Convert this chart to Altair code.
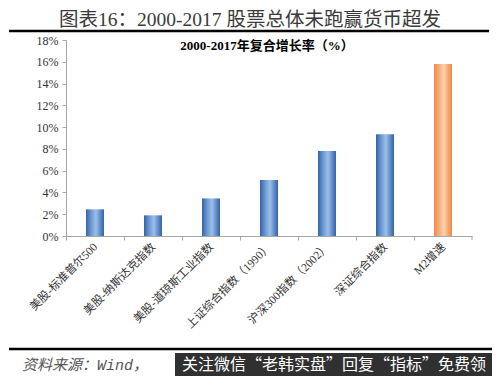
import altair as alt
import pandas as pd

categories = ["美股-标准普尔500", "美股-纳斯达克指数", "美股-道琼斯工业指数",
              "上证综合指数（1990）", "沪深300指数（2002）", "深证综合指数", "M2增速"]
values = [2.45, 1.9, 3.45, 5.15, 7.8, 9.35, 15.8]
groups = ["stock", "stock", "stock", "stock", "stock", "stock", "m2"]
y_ticks = [0, 2, 4, 6, 8, 10, 12, 14, 16, 18]

header = "图表16：2000-2017 股票总体未跑赢货币超发"
chart_title = "2000-2017年复合增长率（%）"
source = "资料来源：Wind，"
watermark = "关注微信“老韩实盘”回复“指标”免费领"

df = pd.DataFrame({"cat": categories, "val": values, "grp": groups})

SERIF = "Liberation Serif, Noto Sans CJK SC"
W, H = 406, 196

blue = alt.Gradient(gradient="linear", x1=0, x2=1, y1=0, y2=0, stops=[
    alt.GradientStop(color="#34649F", offset=0),
    alt.GradientStop(color="#6F9AD6", offset=0.3),
    alt.GradientStop(color="#9DBFE8", offset=0.55),
    alt.GradientStop(color="#5E8BCB", offset=0.8),
    alt.GradientStop(color="#34649F", offset=1)])
orange = alt.Gradient(gradient="linear", x1=0, x2=1, y1=0, y2=0, stops=[
    alt.GradientStop(color="#EE8A45", offset=0),
    alt.GradientStop(color="#F7B07C", offset=0.3),
    alt.GradientStop(color="#FCD3AE", offset=0.55),
    alt.GradientStop(color="#F5A56B", offset=0.8),
    alt.GradientStop(color="#EE8A45", offset=1)])

xenc = alt.X("cat:N", sort=categories, title=None,
             scale=alt.Scale(paddingInner=0, paddingOuter=0),
             axis=alt.Axis(labelAngle=-45, labelAlign="right", labelBaseline="middle",
                           labelFont=SERIF, labelFontSize=11.5, labelColor="#333333",
                           labelPadding=5, domainColor="#A6A6A6", tickColor="#A6A6A6",
                           tickSize=4, bandPosition=0, labelOffset=1, grid=False))
yenc = alt.Y("val:Q", title=None, scale=alt.Scale(domain=[0, 18], nice=False),
             axis=alt.Axis(values=y_ticks, labelExpr="datum.value + '%'",
                           labelFont=SERIF, labelFontSize=12, labelColor="#333333",
                           domainColor="#A6A6A6", tickColor="#A6A6A6", tickSize=4,
                           labelPadding=4, grid=False))

base = alt.Chart(df)
bars_blue = base.transform_filter(alt.datum.grp == "stock").mark_bar(size=18, fill=blue).encode(x=xenc, y=yenc)
bars_orange = base.transform_filter(alt.datum.grp == "m2").mark_bar(size=18, fill=orange).encode(x=xenc, y=yenc)

end_tick = alt.Chart(pd.DataFrame({"a": [0]})).mark_rule(color="#A6A6A6").encode(
    x=alt.value(W), y=alt.value(H), y2=alt.value(H + 4))

def txt(s, x, y, **kw):
    return alt.Chart(pd.DataFrame({"t": [s]})).mark_text(**kw).encode(
        text="t:N", x=alt.value(x), y=alt.value(y))

def line(x1, x2, y, w):
    return alt.Chart(pd.DataFrame({"a": [0]})).mark_rule(color="#000000", strokeWidth=w).encode(
        x=alt.value(x1), x2=alt.value(x2), y=alt.value(y))

ox, oy = 66, 40  # view origin in page coordinates

t_header = txt(header, 250 - ox, 19.5 - oy, font=SERIF, fontSize=19.5, color="#3A3A3A",
               align="center", baseline="middle")
t_title = txt(chart_title, 267 - ox, 46 - oy, font=SERIF, fontSize=13, fontWeight="bold",
              color="#000000", align="center", baseline="middle")
top_line = line(9 - ox, 489 - ox, 31 - oy, 2.5)
bot_line = line(9 - ox, 492 - ox, 349 - oy, 2.5)
t_source = txt(source, 22 - ox, 365 - oy, font="Liberation Mono, Noto Sans CJK SC",
               fontSize=15, fontStyle="italic", color="#555555", align="left", baseline="middle")
wm_rect = alt.Chart(pd.DataFrame({"a": [0]})).mark_rect(color="#303030").encode(
    x=alt.value(175 - ox), x2=alt.value(500 - ox), y=alt.value(353 - oy), y2=alt.value(384 - oy))
t_wm = txt(watermark, 334 - ox, 365 - oy, font="Noto Sans CJK SC", fontSize=16,
           color="#FFFFFF", align="center", baseline="middle")

chart = alt.layer(bars_blue, bars_orange, end_tick, t_header, t_title, top_line, bot_line,
                  t_source, wm_rect, t_wm).properties(
    width=W, height=H, autosize=alt.AutoSizeParams(type="none"),
    padding={"left": ox - 8, "top": oy - 8, "right": 484 - (ox - 8) - W, "bottom": 368 - (oy - 8) - H},
    background="#FFFFFF"
).configure_view(strokeWidth=0)

chart.save("out.html", embed_options={"renderer": "svg", "actions": False})
